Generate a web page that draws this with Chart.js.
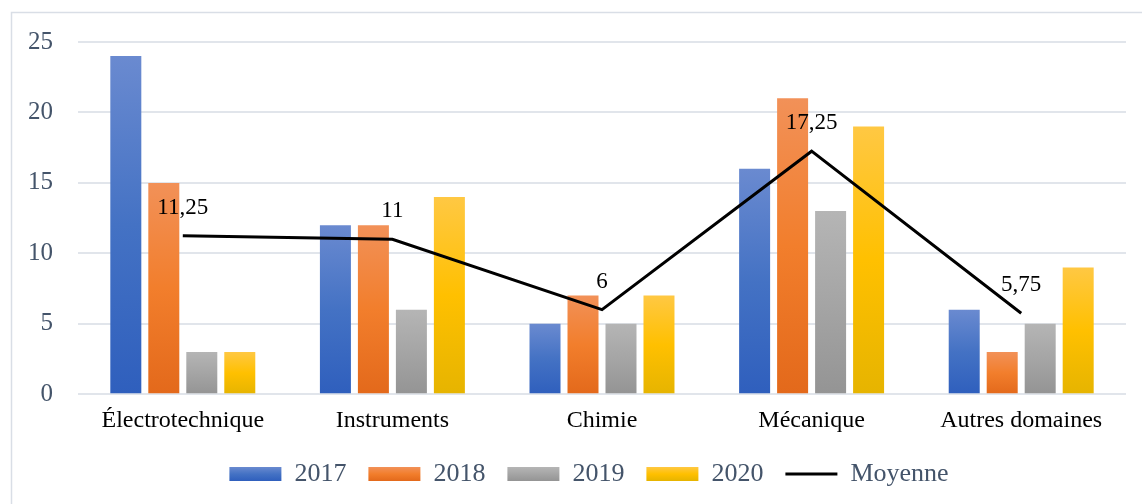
<!DOCTYPE html>
<html lang="fr">
<head>
<meta charset="utf-8">
<title>Brevets par domaine 2017-2020</title>
<script src="https://cdn.jsdelivr.net/npm/chart.js@4.4.1/dist/chart.umd.min.js"></script>
<style>
  html, body { margin: 0; padding: 0; background: #fff; }
  #wrap { width: 1142px; height: 504px; }
</style>
</head>
<body>
<div id="wrap"><canvas id="chart" width="1142" height="504"></canvas></div>
<script>
// Données
const domaines = ['Électrotechnique', 'Instruments', 'Chimie', 'Mécanique', 'Autres domaines'];
const annees = ['2017', '2018', '2019', '2020'];
const val2017 = [24, 12, 5, 16, 6];
const val2018 = [15, 12, 7, 21, 3];
const val2019 = [3, 6, 5, 13, 5];
const val2020 = [3, 14, 7, 19, 9];
const moyenne = [11.25, 11, 6, 17.25, 5.75];
const graduations = [0, 5, 10, 15, 20, 25];

// Dégradés clair -> base -> foncé (style Office)
const teintes = [
    ['#6a8ad0', '#4472c4', '#2f5fbd'],
    ['#f29158', '#f27e2c', '#e3691b'],
    ['#b5b5b5', '#a5a5a5', '#949494'],
    ['#ffc843', '#ffc000', '#e6b400']
];

function degrade(ctx, haut, bas, t) {
    const g = ctx.createLinearGradient(0, haut, 0, bas);
    g.addColorStop(0, t[0]);
    g.addColorStop(0.5, t[1]);
    g.addColorStop(1, t[2]);
    return g;
}

function fondBarre(t) {
    return function (context) {
        const chart = context.chart;
        if (!chart.chartArea || context.type !== 'data') return t[1];
        const y = chart.scales.y;
        const v = context.raw;
        return degrade(chart.ctx, y.getPixelForValue(v), y.getPixelForValue(0), t);
    };
}

const police = 'Liberation Serif, Times New Roman, serif';

// Cadre autour du graphique + dégradés des pastilles de légende
const cadre = {
    id: 'cadre',
    afterLayout(chart) {
        // légende un peu décalée vers la droite
        if (chart.legend) {
            chart.legend.left += 20;
            chart.legend.right += 20;
        }
    },
    beforeDraw(chart) {
        const ctx = chart.ctx;
        ctx.save();
        ctx.strokeStyle = '#d9dee6';
        ctx.lineWidth = 1.5;
        ctx.strokeRect(11.5, 12.5, chart.width + 10, chart.height + 10);
        ctx.restore();

        const leg = chart.legend;
        if (leg && leg.legendHitBoxes && leg.legendItems) {
            leg.legendItems.forEach((item, i) => {
                const hb = leg.legendHitBoxes[i];
                const t = teintes[item.datasetIndex];
                if (!hb || !t) return;
                const cy = hb.top + hb.height / 2;
                item.fillStyle = degrade(ctx, cy - 7, cy + 7, t);
            });
        }
    }
};

// Étiquettes de la moyenne au-dessus de la courbe
const etiquettes = {
    id: 'etiquettes',
    afterDatasetsDraw(chart) {
        const idx = chart.data.datasets.findIndex(d => d.type === 'line');
        const meta = chart.getDatasetMeta(idx);
        const ctx = chart.ctx;
        ctx.save();
        ctx.font = '23px ' + police;
        ctx.fillStyle = '#000';
        ctx.textAlign = 'center';
        ctx.textBaseline = 'alphabetic';
        meta.data.forEach((pt, i) => {
            const txt = String(moyenne[i]).replace('.', ',');
            ctx.fillText(txt, pt.x, pt.y - 22);
        });
        ctx.restore();
    }
};

const jeux = [val2017, val2018, val2019, val2020].map((vals, i) => ({
    type: 'bar',
    label: annees[i],
    data: vals,
    backgroundColor: fondBarre(teintes[i]),
    borderWidth: 0,
    pointStyle: 'rect',
    categoryPercentage: 0.725,
    barPercentage: 0.816,
    order: 2
}));

jeux.push({
    type: 'line',
    label: 'Moyenne',
    data: moyenne,
    borderColor: '#000',
    backgroundColor: '#000',
    borderWidth: 3,
    pointRadius: 0,
    pointStyle: 'line',
    tension: 0,
    order: 1
});

new Chart(document.getElementById('chart'), {
    data: { labels: domaines, datasets: jeux },
    options: {
        responsive: false,
        animation: false,
        layout: { padding: { left: 12, right: 16, top: 42, bottom: 7 } },
        plugins: {
            tooltip: { enabled: false },
            legend: {
                position: 'bottom',
                labels: {
                    usePointStyle: true,
                    pointStyleWidth: 52,
                    boxHeight: 14,
                    padding: 22,
                    color: '#44546a',
                    font: { family: police, size: 26 },
                    sort: (a, b) => a.datasetIndex - b.datasetIndex
                }
            }
        },
        scales: {
            x: {
                grid: { display: false },
                border: { display: false },
                ticks: {
                    color: '#000',
                    padding: 4,
                    font: { family: police, size: 24 }
                }
            },
            y: {
                min: 0,
                max: 25,
                afterBuildTicks(scale) {
                    scale.ticks = graduations.map(v => ({ value: v }));
                },
                afterFit(scale) { scale.width = 66; },
                grid: { color: '#e1e5eb', lineWidth: 2, drawTicks: false },
                border: { display: false },
                ticks: {
                    color: '#44546a',
                    padding: 25,
                    font: { family: police, size: 25 }
                }
            }
        }
    },
    plugins: [cadre, etiquettes]
});
</script>
</body>
</html>
